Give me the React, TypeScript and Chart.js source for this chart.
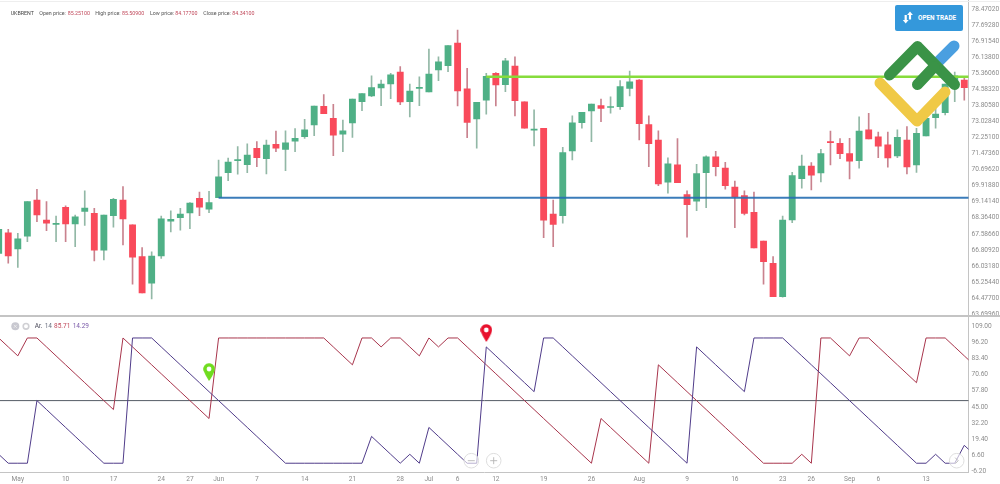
import React, { useEffect, useRef } from 'react'
import Chart from 'chart.js/auto'

const opens = [66.64, 67.64, 66.85, 67.48, 69.22, 68.26, 68.05, 68.88, 68.07, 68.68, 68.58, 66.8, 68.47, 69.23, 68.03, 66.48, 65.19, 66.51, 68.2, 68.37, 68.6, 69.31, 68.78, 69.34, 70.55, 71.14, 70.94, 71.74, 71.23, 71.93, 71.69, 72.09, 72.3, 72.87, 73.78, 73.19, 72.42, 72.97, 74.0, 74.28, 74.67, 74.86, 75.44, 74.0, 74.65, 74.47, 75.54, 75.75, 76.85, 74.63, 73.16, 74.08, 75.38, 74.83, 75.73, 73.99, 72.62, 72.71, 68.55, 68.47, 71.61, 72.98, 73.55, 73.81, 73.72, 73.76, 74.65, 75.05, 72.89, 72.14, 70.09, 70.94, 69.49, 69.17, 70.55, 71.32, 70.78, 69.86, 69.44, 68.63, 67.24, 66.16, 64.54, 68.26, 70.26, 70.87, 70.54, 72.06, 71.98, 71.48, 71.14, 72.64, 72.29, 71.91, 71.37, 72.14, 70.93, 72.34, 73.22, 73.47, 74.67, 75.05]
const highs = [67.87, 67.81, 67.61, 69.15, 69.75, 69.15, 68.45, 68.95, 68.5, 69.68, 68.83, 68.5, 69.31, 69.88, 68.03, 66.92, 66.72, 68.45, 68.7, 68.83, 69.1, 69.62, 69.65, 71.17, 71.27, 71.82, 71.95, 72.06, 72.14, 72.58, 72.59, 72.69, 73.15, 73.79, 74.34, 73.87, 73.11, 74.13, 74.39, 75.26, 75.05, 75.38, 75.7, 74.85, 75.21, 76.56, 76.18, 76.72, 77.48, 75.62, 73.97, 75.38, 75.41, 76.11, 76.18, 73.99, 73.6, 72.71, 69.23, 71.79, 73.31, 73.49, 73.89, 74.13, 74.24, 75.02, 75.49, 75.07, 73.32, 72.59, 71.28, 72.21, 69.67, 70.96, 71.37, 71.59, 71.06, 70.15, 69.67, 69.62, 67.24, 66.48, 68.45, 70.57, 71.41, 71.04, 71.69, 72.58, 72.21, 72.22, 73.27, 73.44, 72.53, 72.53, 72.63, 72.79, 72.71, 73.5, 74.08, 74.86, 75.44, 75.17]
const lows = [66.51, 66.16, 65.96, 67.21, 68.18, 67.74, 67.21, 67.21, 66.96, 68.0, 66.27, 66.32, 67.91, 67.05, 65.14, 64.72, 64.43, 66.4, 67.68, 67.77, 67.84, 68.47, 68.61, 69.34, 70.17, 70.48, 70.55, 70.85, 70.49, 71.57, 70.65, 71.57, 72.22, 72.35, 73.42, 71.38, 71.57, 72.27, 73.56, 74.24, 73.81, 74.15, 73.86, 73.26, 73.81, 74.47, 75.02, 75.46, 73.79, 72.25, 71.74, 73.4, 73.79, 74.49, 73.31, 72.72, 71.85, 67.4, 66.96, 68.1, 71.17, 72.71, 72.06, 73.03, 73.44, 73.63, 74.28, 72.14, 70.85, 69.92, 69.56, 70.07, 67.42, 68.71, 68.86, 70.4, 69.75, 67.89, 68.5, 66.9, 65.15, 64.54, 64.51, 68.13, 69.8, 69.72, 70.11, 70.93, 71.23, 70.25, 70.77, 72.19, 71.28, 70.82, 71.28, 70.49, 70.57, 72.34, 72.71, 73.36, 74.0, 74.08]
const closes = [67.81, 66.51, 67.34, 69.15, 68.5, 68.1, 68.08, 68.07, 68.41, 68.84, 66.8, 68.5, 69.26, 68.31, 66.45, 64.72, 66.51, 68.31, 68.29, 68.55, 69.08, 68.88, 69.1, 70.36, 71.07, 71.19, 71.41, 71.28, 71.9, 71.75, 72.0, 72.22, 72.64, 73.79, 73.42, 72.37, 72.59, 74.13, 74.39, 74.68, 74.86, 75.31, 73.99, 74.52, 74.67, 75.34, 75.93, 76.72, 74.52, 73.0, 73.97, 75.23, 74.81, 75.98, 74.05, 72.72, 72.63, 68.25, 68.05, 71.53, 72.98, 73.49, 73.89, 73.68, 73.73, 74.73, 74.96, 72.93, 71.96, 70.01, 70.98, 70.07, 69.0, 70.51, 71.32, 70.85, 69.92, 69.39, 68.58, 66.9, 66.24, 64.54, 68.25, 70.41, 70.88, 70.44, 71.48, 72.01, 71.48, 71.11, 72.58, 72.19, 71.84, 71.27, 72.27, 70.83, 72.47, 73.19, 73.4, 74.86, 75.25, 74.68]

const aroonUp = [100, 92.86, 85.71, 100, 100, 92.86, 85.71, 78.57, 71.43, 64.29, 57.14, 50, 42.86, 100, 92.86, 85.71, 78.57, 71.43, 64.29, 57.14, 50, 42.86, 35.71, 100, 100, 100, 100, 100, 100, 100, 100, 100, 100, 100, 100, 92.86, 85.71, 78.57, 100, 100, 92.86, 100, 100, 92.86, 85.71, 100, 92.86, 100, 100, 92.86, 85.71, 78.57, 71.43, 64.29, 57.14, 50, 42.86, 35.71, 28.57, 21.43, 14.29, 7.14, 0, 35.71, 28.57, 21.43, 14.29, 7.14, 0, 78.57, 71.43, 64.29, 57.14, 50, 42.86, 35.71, 28.57, 21.43, 14.29, 7.14, 0, 0, 0, 0, 7.14, 0, 100, 100, 92.86, 85.71, 100, 100, 92.86, 85.71, 78.57, 71.43, 64.29, 100, 100, 100, 92.86, 85.71, 78.57]
const aroonDown = [7.14, 0, 0, 0, 50, 42.86, 35.71, 28.57, 21.43, 14.29, 7.14, 0, 0, 0, 100, 100, 100, 92.86, 85.71, 78.57, 71.43, 64.29, 57.14, 50, 42.86, 35.71, 28.57, 21.43, 14.29, 7.14, 0, 0, 0, 0, 0, 0, 0, 0, 0, 21.43, 14.29, 7.14, 0, 7.14, 0, 28.57, 21.43, 14.29, 7.14, 0, 0, 92.86, 85.71, 78.57, 71.43, 64.29, 57.14, 100, 100, 92.86, 85.71, 78.57, 71.43, 64.29, 57.14, 50, 42.86, 35.71, 28.57, 21.43, 14.29, 7.14, 0, 92.86, 85.71, 78.57, 71.43, 64.29, 57.14, 100, 100, 100, 100, 92.86, 85.71, 78.57, 71.43, 64.29, 57.14, 50, 42.86, 35.71, 28.57, 21.43, 14.29, 7.14, 0, 0, 7.14, 0, 0, 14.29, 7.14]

const priceTicks = [78.4702, 77.6928, 76.9154, 76.138, 75.3606, 74.5832, 73.8058, 73.0284, 72.251, 71.4736, 70.6962, 69.9188, 69.1414, 68.364, 67.5866, 66.8092, 66.0318, 65.2544, 64.477, 63.6996]
const aroonTicks = [109, 96.2, 83.4, 70.6, 57.8, 45, 32.2, 19.4, 6.6, -6.2]
const dateTickIndexes = [2, 7, 12, 17, 20, 23, 27, 32, 37, 42, 45, 48, 52, 57, 62, 67, 72, 77, 82, 85, 89, 92, 97]
const dateTickLabels = ['May', '10', '17', '24', '27', 'Jun', '7', '14', '21', '28', 'Jul', '6', '12', '19', '26', 'Aug', '9', '16', '23', '26', 'Sep', '6', '13']

const supportLevel = 69.34
const supportStart = 23
const resistanceLevel = 75.21
const resistanceStart = 51
const midLevel = 50
const buyPin = { index: 22, value: 72.8 }
const sellPin = { index: 51, value: 104 }

const xRange = { min: 0.136, max: 101.44 }
const font = 'Roboto'
const axisColor = '#c4c4c4'

const makePin = (color: string) => {
  const c = document.createElement('canvas')
  c.width = 12
  c.height = 18
  const ctx = c.getContext('2d')!
  ctx.fillStyle = color
  ctx.beginPath()
  ctx.arc(6, 6, 5.8, Math.PI * 0.85, Math.PI * 0.15)
  ctx.quadraticCurveTo(10, 12, 6, 18)
  ctx.quadraticCurveTo(2, 12, 0.6, 7.8)
  ctx.fill()
  ctx.fillStyle = '#fff'
  ctx.beginPath()
  ctx.arc(6, 6, 2.4, 0, Math.PI * 2)
  ctx.fill()
  return c
}

const flatLine = (level: number, start: number) => [
  { x: start, y: level },
  { x: 103, y: level }
]

const rightAxis = (min: number, max: number, values: number[], digits: number) => ({
  position: 'right' as const,
  min,
  max,
  grid: { display: false, drawTicks: false },
  border: { color: axisColor, width: 1 },
  afterBuildTicks: (scale: any) => {
    scale.ticks = values.map(value => ({ value }))
  },
  afterFit: (scale: any) => {
    scale.width = 31.5
    scale.paddingTop = 0
    scale.paddingBottom = 0
  },
  ticks: {
    autoSkip: false,
    padding: 3,
    color: '#8c8c8c',
    font: { family: font, size: 6.6 },
    callback: (v: any) => Number(v).toFixed(digits)
  }
})

const baseOptions = {
  responsive: false,
  animation: false as const,
  events: [],
  layout: { autoPadding: false },
  plugins: { legend: { display: false }, tooltip: { enabled: false } }
}

export default function App() {
  const priceRef = useRef<HTMLCanvasElement | null>(null)
  const aroonRef = useRef<HTMLCanvasElement | null>(null)

  useEffect(() => {
    const isUp = (i: number) => closes[i] >= opens[i]
    const priceChart = new Chart(priceRef.current!, {
      type: 'bar',
      data: {
        datasets: [
          {
            type: 'line',
            data: flatLine(resistanceLevel, resistanceStart),
            borderColor: '#86dc3c',
            borderWidth: 2.4,
            pointRadius: 0,
            order: 1
          },
          {
            type: 'line',
            data: flatLine(supportLevel, supportStart),
            borderColor: 'rgba(38, 110, 178, 0.9)',
            borderWidth: 1.8,
            pointRadius: 0,
            order: 1
          },
          {
            data: opens.map((o, i) => ({ x: i, y: [o, closes[i]] })),
            backgroundColor: opens.map((_, i) => (isUp(i) ? '#4fb086' : '#f94a5b')),
            barThickness: 6.2,
            minBarLength: 1,
            grouped: false,
            order: 2
          },
          {
            data: lows.map((l, i) => ({ x: i, y: [l, highs[i]] })),
            backgroundColor: opens.map((_, i) => (isUp(i) ? '#92b8a6' : '#c9828e')),
            barThickness: 1,
            grouped: false,
            order: 3
          }
        ] as any
      },
      options: {
        ...baseOptions,
        scales: {
          x: { type: 'linear', display: false, offset: false, ...xRange },
          y: rightAxis(63.6, 78.936, priceTicks, 5)
        }
      } as any
    })

    const aroonChart = new Chart(aroonRef.current!, {
      type: 'line',
      data: {
        datasets: [
          {
            data: [{ x: buyPin.index, y: buyPin.value }],
            pointStyle: makePin('#6fdc1e'),
            showLine: false,
            order: 0
          },
          {
            data: [{ x: sellPin.index, y: sellPin.value }],
            pointStyle: makePin('#e8112d'),
            showLine: false,
            order: 0
          },
          {
            data: aroonDown.map((y, x) => ({ x, y })),
            borderColor: '#503c8a',
            borderWidth: 1,
            pointRadius: 0,
            order: 1
          },
          {
            data: aroonUp.map((y, x) => ({ x, y })),
            borderColor: '#a8354c',
            borderWidth: 1,
            pointRadius: 0,
            order: 2
          },
          {
            data: flatLine(midLevel, 0),
            borderColor: '#565c66',
            borderWidth: 1,
            pointRadius: 0,
            order: 3
          }
        ] as any
      },
      options: {
        ...baseOptions,
        scales: {
          x: {
            type: 'linear',
            ...xRange,
            grid: { display: false, drawTicks: false },
            border: { color: axisColor, width: 1 },
            afterBuildTicks: (scale: any) => {
              scale.ticks = dateTickIndexes.map(value => ({ value }))
            },
            afterFit: (scale: any) => {
              scale.height = 11.7
              scale.paddingLeft = 0
              scale.paddingRight = 0
            },
            ticks: {
              autoSkip: false,
              maxRotation: 0,
              padding: 3,
              color: '#8c8c8c',
              font: { family: font, size: 6.6 },
              callback: (v: any) => dateTickLabels[dateTickIndexes.indexOf(v)]
            }
          },
          y: rightAxis(-7.24, 117.54, aroonTicks, 2)
        }
      } as any
    })

    return () => {
      priceChart.destroy()
      aroonChart.destroy()
    }
  }, [])

  const label = (left: number, top: number, text: string, color: string, size = 5.3) => (
    <span style={{ position: 'absolute', left, top, color, fontSize: size, lineHeight: '8px', whiteSpace: 'nowrap' }}>{text}</span>
  )

  return (
    <div style={{ position: 'absolute', left: 0, top: 0, width: 1000, height: 484, overflow: 'hidden', background: '#fff', fontFamily: font }}>
      <canvas ref={priceRef} width={1000} height={316} style={{ position: 'absolute', left: 0, top: 0, display: 'block' }} />
      <canvas ref={aroonRef} width={1000} height={168} style={{ position: 'absolute', left: 0, top: 316, display: 'block' }} />
      <div style={{ position: 'absolute', left: 0, top: 1, width: 1000, height: 1, background: '#eeeeee' }} />
      <div style={{ position: 'absolute', left: 0, top: 315, width: 1000, height: 1.5, background: axisColor }} />
      {/* the last axis label is cut off by the pane edge */}
      <div style={{ position: 'absolute', left: 969, top: 473, width: 31, height: 11, background: '#fff' }} />

      {label(10.7, 9.3, 'UKBRENT', '#444')}
      {label(39.3, 9.3, 'Open price:', '#555')}
      {label(67.7, 9.3, '85.25100', '#c0485a')}
      {label(95.3, 9.3, 'High price:', '#555')}
      {label(122, 9.3, '85.50900', '#c0485a')}
      {label(150, 9.3, 'Low price:', '#555')}
      {label(175.3, 9.3, '84.17700', '#c0485a')}
      {label(203.3, 9.3, 'Close price:', '#555')}
      {label(232.3, 9.3, '84.34100', '#c0485a')}

      {label(34.7, 322.3, 'Ar.', '#4a4a5a', 6.5)}
      {label(44.7, 322.3, '14', '#6a7080', 6.5)}
      {label(54, 322.3, '85.71', '#c0485a', 6.5)}
      {label(72.7, 322.3, '14.29', '#7a5aa8', 6.5)}

      <div style={{ position: 'absolute', left: 895, top: 5, width: 68, height: 26, background: '#3498db', borderRadius: 2, color: '#fff' }}>
        <span style={{ position: 'absolute', left: 23, top: 9, fontSize: 6.4, lineHeight: '8px', fontWeight: 700, whiteSpace: 'nowrap' }}>OPEN TRADE</span>
      </div>

      <svg width={1000} height={484} style={{ position: 'absolute', left: 0, top: 0, pointerEvents: 'none' }}>
        <g fill="#fff">
          <path d="M904.6 15 H906.8 V20 H908.6 L905.7 23.5 L902.8 20 H904.6 Z" />
          <path d="M908.9 19.5 H911.1 V15 H912.9 L910 11.5 L907.1 15 H908.9 Z" />
        </g>
        <g fill="none" strokeWidth={11} strokeLinecap="round" strokeLinejoin="round">
          <path d="M937 63 L954 46" stroke="#4a9fe0" />
          <path d="M880 83 L917 121 L945 92" stroke="#f0c946" />
          <path d="M889.5 75 L917.5 46.5 L954.5 84.5" stroke="#3a9347" />
          <path d="M917.5 84.5 L934 67" stroke="#3a9347" />
        </g>

        <circle cx={15.3} cy={326.3} r={4} fill="#c8c8d0" />
        <path d="M13.8 324.8 L16.8 327.8 M16.8 324.8 L13.8 327.8" stroke="#eee" strokeWidth={0.8} />
        <circle cx={26} cy={326.3} r={2.8} fill="none" stroke="#d0d0d4" strokeWidth={1.6} />

        <g fill="rgba(255,255,255,0.6)" stroke="#dedede" strokeWidth={1}>
          <circle cx={471.3} cy={460.7} r={7.3} />
          <circle cx={493.7} cy={460.7} r={7.3} />
          <circle cx={956.7} cy={460.7} r={7.3} />
        </g>
        <g fill="none" stroke="#b5b5b5" strokeWidth={0.9}>
          <path d="M467.8 460.7 H474.8" />
          <path d="M490.2 460.7 H497.2 M493.7 457.2 V464.2" />
          <path d="M955.2 457.7 L958.2 460.7 L955.2 463.7" />
        </g>
      </svg>
    </div>
  )
}
